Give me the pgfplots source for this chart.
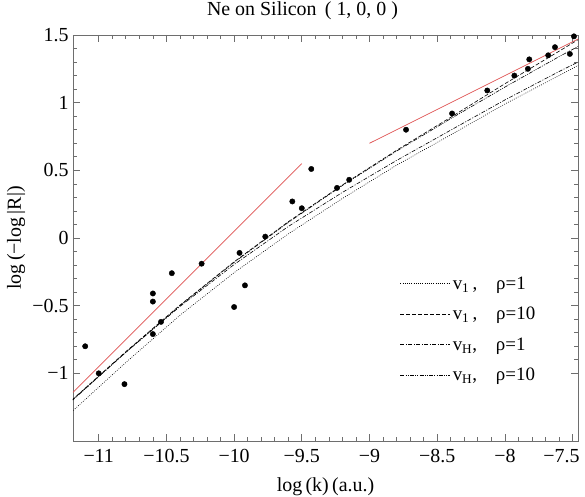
\documentclass[border=0pt]{standalone}
\usepackage{fontspec}
\setmainfont{Liberation Serif}
\usepackage{pgfplots}
\pgfplotsset{compat=1.18}
\definecolor{redline}{RGB}{222,80,80}
\definecolor{frame}{RGB}{110,110,110}
\begin{document}
\begin{tikzpicture}
\begin{axis}[
  scale only axis,
  width=505bp, height=406bp,
  xmin=-11.19, xmax=-7.46,
  ymin=-1.5, ymax=1.5,
  xtick={-11,-10.5,-10,-9.5,-9,-8.5,-8,-7.5},
  xticklabels={−11,−10.5,−10,−9.5,−9,−8.5,−8,\makebox[0pt][r]{−7.5\hspace{-7bp}}},
  ytick={-1,-0.5,0,0.5,1,1.5},
  yticklabels={−1,−0.5,0,0.5,1,1.5},
  minor x tick num=4, minor y tick num=4,
  tick align=inside,
  major tick length=7bp, minor tick length=4bp,
  axis line style={frame, line width=0.9pt},
  every tick/.style={frame, line width=0.7pt},
  tick label style={font=\fontsize{20}{22}\selectfont, text=black},
  xticklabel style={yshift=-5bp},
  yticklabel style={xshift=-1bp},
  title={Ne on Silicon\, ( 1, 0, 0 )},
  title style={at={(rel axis cs:0.5,1)}, anchor=center, yshift=18bp, xshift=-23bp, font=\fontsize{20}{22}\selectfont},
  xlabel={log\,(k)\,(a.u.)},
  ylabel={log\,(−log\,|R|)},
  every axis x label/.style={at={(rel axis cs:0.5,0)}, anchor=center, yshift=-46bp, font=\fontsize{20}{22}\selectfont},
  every axis y label/.style={at={(rel axis cs:0,0.5)}, anchor=center, rotate=90, yshift=57bp, font=\fontsize{20}{22}\selectfont},
  legend style={at={(rel axis cs:0.6475,0.41)}, anchor=north west, draw=none, fill=none,
    font=\fontsize{19}{21}\selectfont, row sep=12.5bp, inner sep=0pt},
  legend cell align=left,
  legend image code/.code={\draw[#1] (0bp,0bp) -- (50bp,0bp);},
  clip=true,
]
% model curves
\addplot[black, line width=0.6pt, dash pattern=on 0.8pt off 1.4pt] coordinates {
(-11.2,-1.285) (-10.8,-0.92) (-10.4,-0.571) (-10.0,-0.256) (-9.6,0.03) (-9.2,0.292) (-8.8,0.538) (-8.4,0.762) (-8.0,0.99) (-7.6,1.20) (-7.46,1.275)};
\addlegendentry{v\textsubscript{1}\,,\quad ρ=1}
\addplot[black, line width=0.6pt, dash pattern=on 4pt off 2pt] coordinates {
(-11.2,-1.20) (-10.8,-0.84) (-10.4,-0.496) (-10.0,-0.176) (-9.6,0.12) (-9.2,0.392) (-8.8,0.648) (-8.4,0.892) (-8.0,1.14) (-7.6,1.38) (-7.46,1.465)};
\addlegendentry{v\textsubscript{1}\,,\quad ρ=10}
\addplot[black, line width=0.6pt, dash pattern=on 4pt off 1.5pt on 1pt off 1.5pt] coordinates {
(-11.2,-1.20) (-10.8,-0.845) (-10.4,-0.506) (-10.0,-0.196) (-9.6,0.085) (-9.2,0.337) (-8.8,0.573) (-8.4,0.797) (-8.0,1.02) (-7.6,1.23) (-7.46,1.30)};
\addlegendentry{v\textsubscript{H},\quad ρ=1}
\addplot[black, line width=0.6pt, dash pattern=on 4pt off 1.2pt on 1pt off 1.2pt on 1pt off 1.2pt] coordinates {
(-11.2,-1.205) (-10.8,-0.845) (-10.4,-0.50) (-10.0,-0.18) (-9.6,0.115) (-9.2,0.388) (-8.8,0.642) (-8.4,0.882) (-8.0,1.115) (-7.6,1.34) (-7.46,1.415)};
\addlegendentry{v\textsubscript{H},\quad ρ=10}
% red fit lines
\addplot[redline, line width=0.7pt, forget plot] coordinates {(-11.19,-1.14) (-9.5,0.55)};
\addplot[redline, line width=0.7pt, forget plot] coordinates {(-9.0,0.70) (-7.46,1.47)};
% data points
\addplot[only marks, mark=*, mark size=2.7pt, black, forget plot] coordinates {
(-11.10,-0.80) (-11.00,-1.00) (-10.81,-1.08) (-10.60,-0.41) (-10.60,-0.47) (-10.60,-0.71)
(-10.54,-0.62) (-10.46,-0.26) (-10.24,-0.19) (-10.00,-0.51) (-9.96,-0.11) (-9.92,-0.35)
(-9.77,0.01) (-9.57,0.27) (-9.50,0.22) (-9.43,0.51) (-9.24,0.37) (-9.15,0.43)
(-8.73,0.80) (-8.39,0.92) (-8.13,1.09) (-7.93,1.20) (-7.83,1.25) (-7.82,1.32)
(-7.68,1.35) (-7.63,1.41) (-7.52,1.36) (-7.49,1.49)};
\coordinate (sw) at (rel axis cs:0,0);
\coordinate (ne) at (rel axis cs:1,1);
\end{axis}
\pgfresetboundingbox
\path ([shift={(-73bp,-56bp)}]sw) rectangle ([shift={(7bp,35bp)}]ne);
\end{tikzpicture}
\end{document}
